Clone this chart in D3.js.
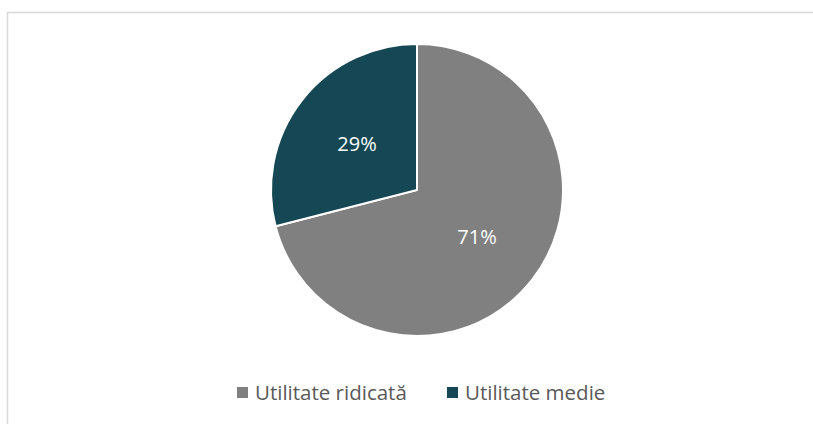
<!DOCTYPE html>
<html><head><meta charset="utf-8">
<script src="https://cdn.jsdelivr.net/npm/d3@7"></script>
<style>body{margin:0;background:#fff}svg{display:block}</style>
</head><body>
<script>
const categories = ["Utilitate ridicată", "Utilitate medie"];
const values = [71, 29];
const colors = ["#808080", "#154854"];

const W = 813, H = 424;
const svg = d3.select("body").append("svg").attr("width", W).attr("height", H);
svg.append("rect").attr("x", 7.5).attr("y", 12.5).attr("width", W).attr("height", H)
  .attr("fill", "none").attr("stroke", "#d9d9d9").attr("stroke-width", 1.5);

const cx = 417, cy = 190, r = 146;
const pie = d3.pie().sort(null).value(d => d)(values);
const arc = d3.arc().innerRadius(0).outerRadius(r);
const g = svg.append("g").attr("transform", `translate(${cx},${cy})`);
g.selectAll("path").data(pie).join("path")
  .attr("d", arc).attr("fill", (d, i) => colors[i])
  .attr("stroke", "#fff").attr("stroke-width", 2).attr("stroke-linejoin", "miter");
const la = d3.arc().innerRadius(r * 0.52).outerRadius(r * 0.52);
g.selectAll("text").data(pie).join("text")
  .attr("transform", d => `translate(${la.centroid(d)})`)
  .attr("text-anchor", "middle").attr("dominant-baseline", "central")
  .attr("font-family", "Open Sans, sans-serif").attr("font-size", 20)
  .attr("fill", "#fff").text(d => d.data + "%");

const legend = svg.append("g");
const lx = [237, 447];
categories.forEach((c, i) => {
  legend.append("rect").attr("x", lx[i]).attr("y", 387).attr("width", 11).attr("height", 11).attr("fill", colors[i]);
  legend.append("text").attr("x", lx[i] + 18).attr("y", 392)
    .attr("dominant-baseline", "central")
    .attr("font-family", "Open Sans, sans-serif").attr("font-size", 20.5)
    .attr("fill", "#595959").text(c);
});
</script>
</body></html>
